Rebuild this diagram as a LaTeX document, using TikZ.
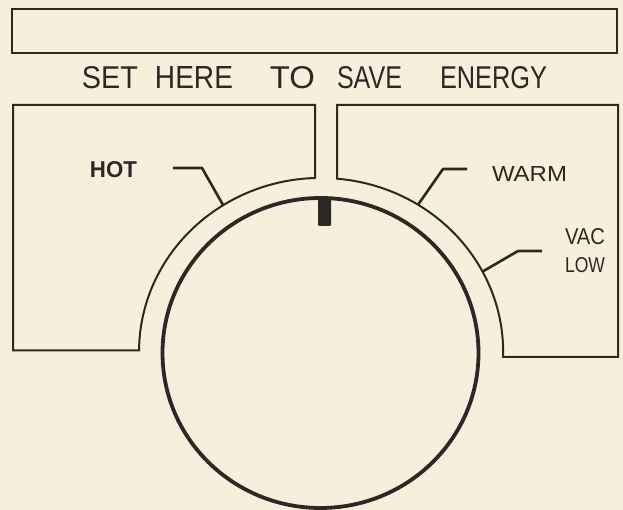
\documentclass[tikz,border=0pt]{standalone}
\usepackage{fontspec}
\setmainfont{Liberation Sans}
\usepackage{graphicx}
\usetikzlibrary{calc}
\definecolor{paper}{RGB}{246,239,219}
\definecolor{ink}{RGB}{45,40,35}
\tikzset{
  panel/.style={draw=ink, line width=2pt, line join=miter},
  dialring/.style={draw=ink, line width=3.8pt},
  tick/.style={draw=ink, line width=2.6pt, line join=round},
  lbl/.style={inner sep=0pt, text=ink, anchor=center},
}
\newcommand{\tword}[2]{\resizebox{#1pt}{22pt}{#2}}
\begin{document}
\begin{tikzpicture}[x=1pt,y=1pt]
  % background / bounding box
  \fill[paper] (0,0) rectangle (623,510);
  \useasboundingbox (0,0) rectangle (623,510);
  % centre of dial
  \coordinate (C) at (321,158);
  % top empty box
  \draw[panel] (12,457) rectangle (617,501);
  % title, word by word
  \node[lbl] (t1) at (110,432) {\tword{56}{SET}};
  \node[lbl] (t2) at (194,432) {\tword{78}{HERE}};
  \node[lbl] (t3) at (292.5,432) {\tword{45}{TO}};
  \node[lbl] (t4) at (369.5,432) {\tword{65}{SAVE}};
  \node[lbl] (t5) at (493.5,432) {\tword{107}{ENERGY}};
  % left panel
  \draw[panel] (315,405) -- (315,332)
     arc[start angle=91.9, end angle=179.5, x radius=182, y radius=174]
     -- ++(-126,0) -- (13,405) -- cycle;
  % right panel
  \draw[panel] (337,405) -- (337,331.3)
     arc[start angle=85, end angle=-1.6, x radius=182, y radius=174]
     -- ++(115,0) -- (618,405) -- cycle;
  % dial
  \draw[dialring] (320.5,157) ellipse[x radius=158, y radius=155];
  % indicator
  \fill[ink, rounded corners=1pt] (318,284) rectangle (331,311);
  % tick points on the outer ring
  \coordinate (hotp) at ($(C)+(122.5:182 and 174)$);
  \coordinate (warmp) at ($(C)+(57.8:182 and 174)$);
  \coordinate (vacp) at ($(C)+(27.5:182 and 174)$);
  % labels
  \node[lbl] (hot) at (113.5,340) {\resizebox{47pt}{16pt}{\bfseries HOT}};
  \node[lbl] (warm) at (529.5,335.5) {\resizebox{75pt}{15pt}{WARM}};
  \node[lbl] (vac) at (585,273.5) {\resizebox{40pt}{16pt}{VAC}};
  \node[lbl] (low) at (585,244.5) {\resizebox{40pt}{15pt}{LOW}};
  % ticks
  \coordinate (hota) at (173,342);
  \coordinate (hotb) at (202,342);
  \coordinate (warma) at (467,341);
  \coordinate (warmb) at (443,341);
  \coordinate (vaca) at (542,259);
  \coordinate (vacb) at (518,259);
  \draw[tick] (hota) -- (hotb) -- (hotp);
  \draw[tick] (warma) -- (warmb) -- (warmp);
  \draw[tick] (vaca) -- (vacb) -- (vacp);
\end{tikzpicture}
\end{document}
